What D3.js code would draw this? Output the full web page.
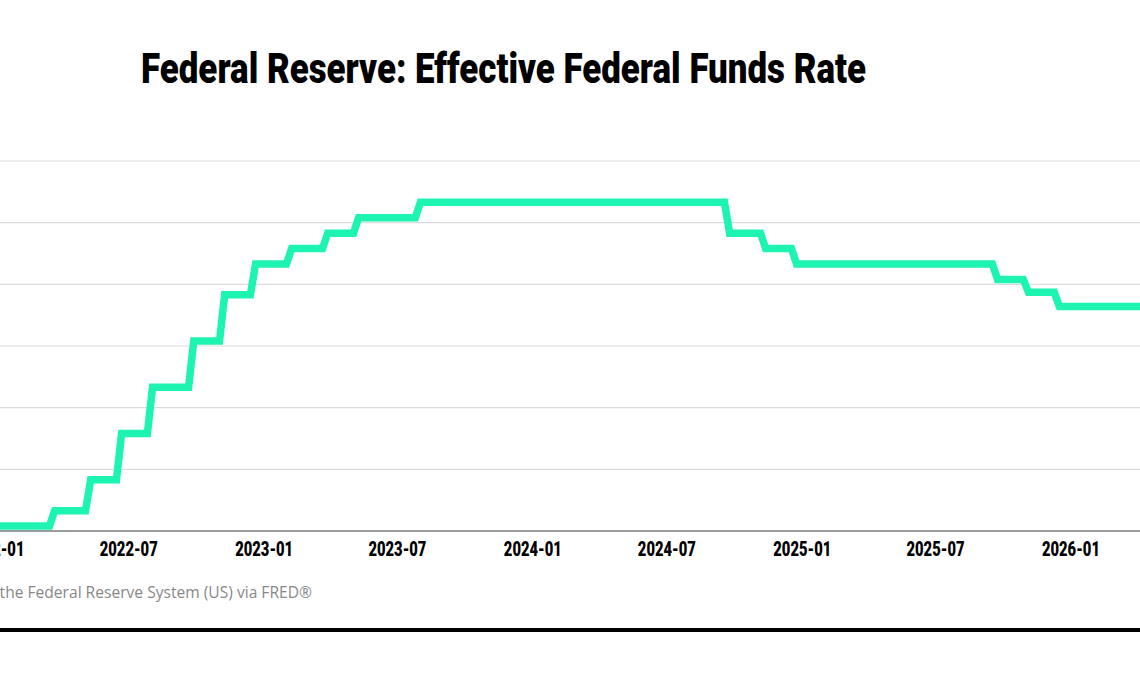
<!DOCTYPE html>
<html>
<head>
<meta charset="utf-8">
<script src="https://cdn.jsdelivr.net/npm/d3@7"></script>
<style>
  body { margin: 0; background: #fff; }
  svg { display: block; }
  .title { font-family: "Liberation Sans Narrow", "Roboto", sans-serif; font-weight: 900; fill: #000; }
  .x-axis text { font-family: "Liberation Sans Narrow", "Roboto", sans-serif; font-weight: 900; font-size: 21px; fill: #000; }
  .source { font-family: "Open Sans", "Noto Sans", sans-serif; font-size: 15.6px; fill: #888; }
</style>
</head>
<body>
<svg id="chart"></svg>
<script>
// Weekly observations at the corners of each FOMC step (week ending Wednesday)
const weekDates = [
  '2022-01-05', '2022-03-16', '2022-03-23', '2022-05-04', '2022-05-11',
  '2022-06-15', '2022-06-22', '2022-07-27', '2022-08-03', '2022-09-21',
  '2022-09-28', '2022-11-02', '2022-11-09', '2022-12-14', '2022-12-21',
  '2023-02-01', '2023-02-08', '2023-03-22', '2023-03-29', '2023-05-03',
  '2023-05-10', '2023-07-26', '2023-08-02', '2024-09-18', '2024-09-25',
  '2024-11-06', '2024-11-13', '2024-12-18', '2024-12-25', '2025-09-17',
  '2025-09-24', '2025-10-29', '2025-11-05', '2025-12-10', '2025-12-17',
  '2026-04-08'
];
// Effective federal funds rate, percent
const effr = [
  0.08, 0.08, 0.33, 0.33, 0.83,
  0.83, 1.58, 1.58, 2.33, 2.33,
  3.08, 3.08, 3.83, 3.83, 4.33,
  4.33, 4.58, 4.58, 4.83, 4.83,
  5.08, 5.08, 5.33, 5.33, 4.83,
  4.83, 4.58, 4.58, 4.33, 4.33,
  4.08, 4.08, 3.87, 3.87, 3.64,
  3.64
];
const yTicks = [0, 1, 2, 3, 4, 5, 6];
const xDomain = ['2022-01-01', '2026-04-15'];
const titleText = 'Federal Reserve: Effective Federal Funds Rate';
const sourceText = 'Source: Board of Governors of the Federal Reserve System (US) via FRED®';

class StepLine {
  constructor(_config, _data) {
    this.config = {
      parentElement: _config.parentElement,
      containerWidth: _config.containerWidth || 1140,
      containerHeight: _config.containerHeight || 675,
      // chart is cropped on the left, so the plot starts just off-screen
      margin: _config.margin || {top: 161, right: -7, bottom: 144, left: -5}
    };
    this.data = _data;
    this.initVis();
  }

  initVis() {
    let vis = this;

    vis.width = vis.config.containerWidth - vis.config.margin.left - vis.config.margin.right;
    vis.height = vis.config.containerHeight - vis.config.margin.top - vis.config.margin.bottom;

    vis.svg = d3.select(vis.config.parentElement)
        .attr('width', vis.config.containerWidth)
        .attr('height', vis.config.containerHeight);

    vis.chart = vis.svg.append('g')
        .attr('transform', `translate(${vis.config.margin.left},${vis.config.margin.top})`);

    vis.xScale = d3.scaleUtc()
        .domain(xDomain.map(d => new Date(d)))
        .range([0, vis.width]);

    vis.yScale = d3.scaleLinear()
        .domain([0, 6])
        .range([vis.height, 0]);

    vis.xAxis = d3.axisBottom(vis.xScale)
        .ticks(d3.utcMonth.every(6))
        .tickFormat(d3.utcFormat('%Y-%m'))
        .tickSize(0)
        .tickPadding(10);

    // title
    vis.svg.append('text')
        .attr('class', 'title')
        .attr('x', 141)
        .attr('y', 83)
        .attr('font-size', 43)
        .attr('textLength', 725)
        .attr('lengthAdjust', 'spacingAndGlyphs')
        .text(titleText);

    // source note, left part runs off the crop
    vis.svg.append('text')
        .attr('class', 'source')
        .attr('x', 312)
        .attr('y', 598)
        .attr('text-anchor', 'end')
        .text(sourceText);

    // heavy rule under the chart
    vis.svg.append('line')
        .attr('x1', 0)
        .attr('x2', vis.config.containerWidth)
        .attr('y1', 630)
        .attr('y2', 630)
        .attr('stroke', '#000')
        .attr('stroke-width', 4);
  }

  updateVis() {
    let vis = this;
    vis.xValue = d => d.date;
    vis.yValue = d => d.rate;
    vis.line = d3.line()
        .x(d => vis.xScale(vis.xValue(d)))
        .y(d => vis.yScale(vis.yValue(d)));
    vis.renderVis();
  }

  renderVis() {
    let vis = this;

    // gridlines
    vis.chart.selectAll('.grid')
        .data(yTicks.filter(d => d > 0))
      .join('line')
        .attr('class', 'grid')
        .attr('x1', 0)
        .attr('x2', vis.width)
        .attr('y1', d => vis.yScale(d))
        .attr('y2', d => vis.yScale(d))
        .attr('stroke', '#dcdcdc')
        .attr('stroke-width', 1.2);

    // baseline
    vis.chart.append('line')
        .attr('x1', 0)
        .attr('x2', vis.width)
        .attr('y1', vis.yScale(0))
        .attr('y2', vis.yScale(0))
        .attr('stroke', '#7a7a7a')
        .attr('stroke-width', 1.6);

    vis.chart.append('path')
        .datum(vis.data)
        .attr('d', vis.line)
        .attr('fill', 'none')
        .attr('stroke', '#1ef4b1')
        .attr('stroke-width', 7.5)
        .attr('stroke-linejoin', 'miter');

    vis.xAxisG = vis.chart.append('g')
        .attr('class', 'axis x-axis')
        .attr('transform', `translate(0,${vis.height})`)
        .call(vis.xAxis);
    vis.xAxisG.select('.domain').remove();

    // condensed look for the tick labels
    vis.xAxisG.selectAll('text')
        .attr('textLength', 58)
        .attr('lengthAdjust', 'spacingAndGlyphs');
  }
}

const rows = weekDates.map((d, i) => ({date: new Date(d), rate: effr[i]}));
const chart = new StepLine({parentElement: '#chart'}, rows);
chart.updateVis();
</script>
</body>
</html>
